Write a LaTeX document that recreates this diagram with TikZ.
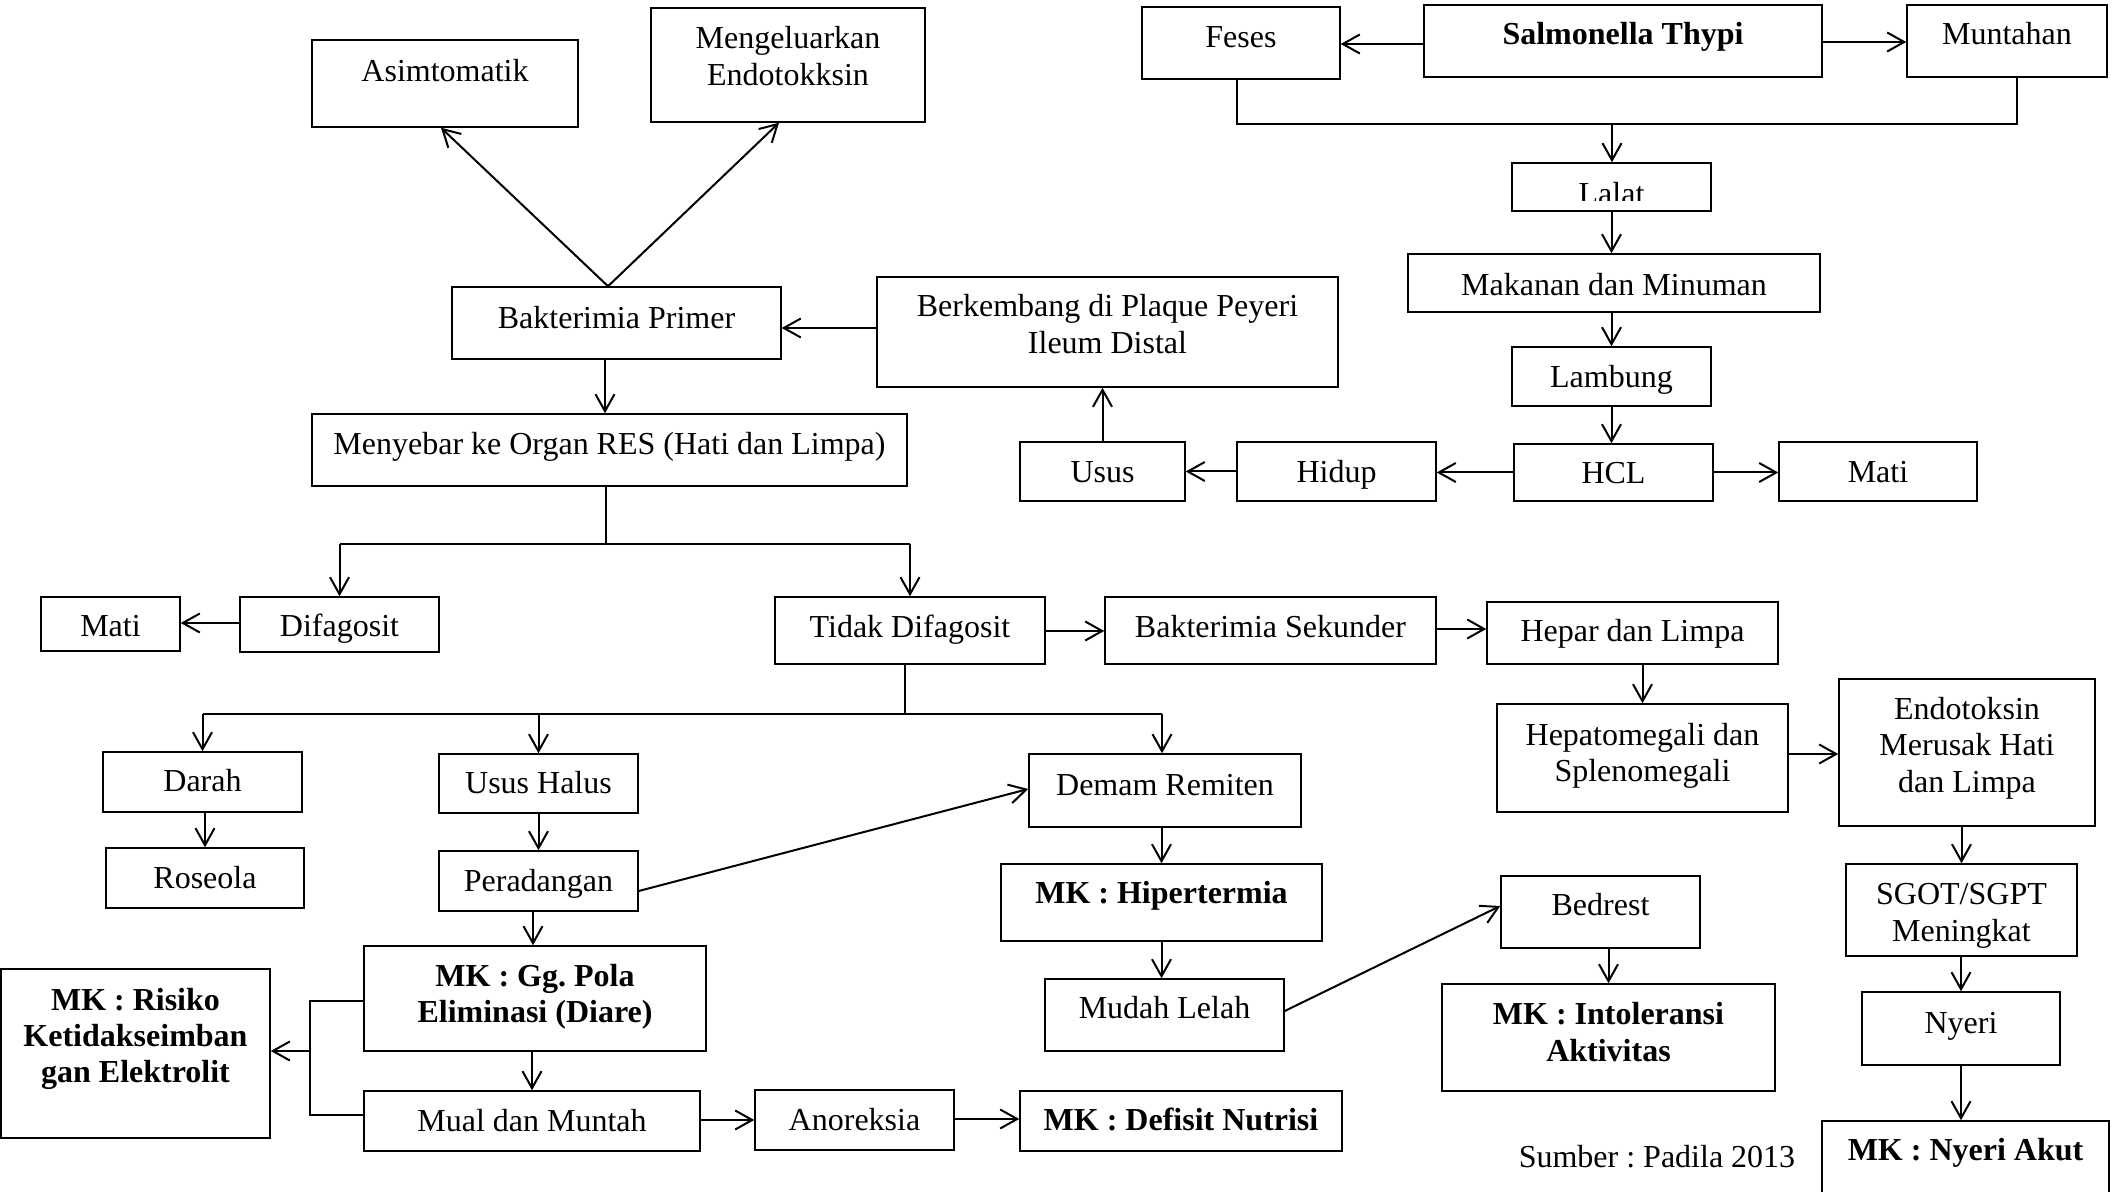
\documentclass[tikz,border=0pt]{standalone}
\usepackage{fontspec}
\setmainfont{Liberation Serif}
\usetikzlibrary{arrows.meta,fit}
\frenchspacing
\newcommand\bx[7]{\node[boxst, fit={(#2,#3)(#4,#5)}] (#1) {};
 \node[txt, one] (#1-t) at ({(#2+#4)/2},#6) {#7};}
\newcommand\bxm[7]{\node[boxst, fit={(#2,#3)(#4,#5)}] (#1) {};
 \node[txt] (#1-t) at ({(#2+#4)/2},#6) {#7};}
\begin{document}
\begin{tikzpicture}[x=0.5pt,y=-0.5pt,
  boxst/.style={draw, line width=0.75pt, inner sep=0pt},
  txt/.style={font=\fontsize{16}{18.2}\selectfont, align=center, inner sep=0pt},
  one/.style={text height=10.9pt, text depth=0pt},
  arr/.style={-{Straight Barb[length=8.5pt,width=9.5pt]}, line width=1pt},
  ln/.style={line width=1pt}]
\useasboundingbox (0,0) rectangle (2117,1192);
\clip (0,0) rectangle (2117,1192);
% boxes
\bx{asim}{312}{40}{578}{127}{71}{Asimtomatik}
\bxm{meng}{651}{8}{925}{122}{56}{Mengeluarkan\\Endotokksin}
\bx{bprim}{452}{287}{781}{359}{318}{Bakterimia Primer}
\bxm{berk}{877}{277}{1338}{387}{324}{Berkembang di Plaque Peyeri\\Ileum Distal}
\bx{meny}{312}{414}{907}{486}{444}{Menyebar ke Organ RES (Hati dan Limpa)}
\bx{feses}{1142}{7}{1340}{79}{37}{Feses}
\bx{salm}{1424}{5}{1822}{77}{34}{\bfseries Salmonella Thypi}
\bx{munt}{1907}{5}{2107}{77}{34}{Muntahan}
\node[boxst, fit={(1512,163)(1711,211)}] (lalat) {};
\begin{scope}
\clip (1512,163) rectangle (1711,201);
\node[txt, anchor=base] (lalat-t) at (1611.5,205) {Lalat};
\end{scope}
\bx{makan}{1408}{254}{1820}{312}{285}{Makanan dan Minuman}
\bx{lamb}{1512}{347}{1711}{406}{377}{Lambung}
\bx{hcl}{1514}{444}{1713}{501}{473}{HCL}
\bx{matir}{1779}{442}{1977}{501}{472}{Mati}
\bx{hidup}{1237}{442}{1436}{501}{472}{Hidup}
\bx{usus}{1020}{442}{1185}{501}{472}{Usus}
\bx{matil}{41}{597}{180}{651}{626}{Mati}
\bx{difa}{240}{597}{439}{652}{626}{Difagosit}
\bx{tidak}{775}{597}{1045}{664}{627}{Tidak Difagosit}
\bx{bsek}{1105}{597}{1436}{664}{627}{Bakterimia Sekunder}
\bx{hepar}{1487}{602}{1778}{664}{631}{Hepar dan Limpa}
\bxm{hepato}{1497}{704}{1788}{812}{756}{Hepatomegali dan\\Splenomegali}
\bxm{endo}{1839}{679}{2095}{826}{748}{Endotoksin\\Merusak Hati\\dan Limpa}
\bxm{sgot}{1846}{864}{2077}{956}{916}{SGOT/SGPT\\Meningkat}
\bx{nyeri}{1862}{992}{2060}{1065}{1023}{Nyeri}
\bx{nakut}{1822}{1121}{2109}{1200}{1150}{\bfseries MK : Nyeri Akut}
\bx{darah}{103}{752}{302}{812}{781}{Darah}
\bx{roseola}{106}{848}{304}{908}{878}{Roseola}
\bx{uhalus}{439}{754}{638}{813}{783}{Usus Halus}
\bx{perad}{439}{851}{638}{911}{881}{Peradangan}
\bx{demam}{1029}{754}{1301}{827}{785}{Demam Remiten}
\bx{hiper}{1001}{864}{1322}{941}{893}{\bfseries MK : Hipertermia}
\bx{mudah}{1045}{979}{1284}{1051}{1008}{Mudah Lelah}
\bx{bedrest}{1501}{876}{1700}{948}{905}{Bedrest}
\bxm{intol}{1442}{984}{1775}{1091}{1032}{\bfseries MK : Intoleransi\\\bfseries Aktivitas}
\bxm{mkgg}{364}{946}{706}{1051}{997}{\bfseries MK : Gg. Pola\\\bfseries Eliminasi (Diare)}
\bxm{risiko}{1}{969}{270}{1138}{1039}{\bfseries MK : Risiko\\\bfseries Ketidakseimban\\\bfseries gan Elektrolit}
\bx{mual}{364}{1091}{700}{1151}{1121}{Mual dan Muntah}
\bx{anor}{755}{1090}{954}{1150}{1120}{Anoreksia}
\bx{defisit}{1020}{1091}{1342}{1151}{1120}{\bfseries MK : Defisit Nutrisi}
\node[txt, one] (sumber) at (1657,1157) {Sumber : Padila 2013};
% connectors top right
\draw[arr] (salm.west |- 0,44) -- (feses.east |- 0,44);
\draw[arr] (salm.east |- 0,42) -- (munt.west |- 0,42);
\coordinate (j1) at (1612,124);
\draw[ln] (feses.south -| 1237,0) -- (1237,124) -- (2017,124) -- (munt.south -| 2017,0);
\draw[arr] (j1) -- (lalat.north -| j1);
\draw[arr] (lalat.south) -- (lalat.south |- makan.north);
\draw[arr] (lamb.north |- makan.south) -- (lamb.north);
\draw[arr] (lamb.south) -- (lamb.south |- hcl.north);
\draw[arr] (hcl.east) -- (matir.west |- hcl.east);
\draw[arr] (hcl.west) -- (hidup.east |- hcl.west);
\draw[arr] (hidup.west) -- (usus.east |- hidup.west);
\draw[arr] (usus.north) -- (usus.north |- berk.south);
\draw[arr] (berk.west |- 0,328) -- (bprim.east |- 0,328);
\draw[arr] (bprim.north -| 608,0) -- (asim.south -| 441,0);
\draw[arr] (bprim.north -| 608,0) -- (meng.south -| 779,0);
\draw[arr] (bprim.south -| 605,0) -- (meny.north -| 605,0);
% split below Menyebar
\coordinate (j2) at (606,544);
\draw[ln] (meny.south -| j2) -- (j2);
\draw[ln] (difa.north |- j2) -- (tidak.north |- j2);
\draw[arr] (difa.north |- j2) -- (difa.north);
\draw[arr] (tidak.north |- j2) -- (tidak.north);
\draw[arr] (difa.west |- 0,623) -- (matil.east |- 0,623);
\draw[arr] (tidak.east |- 0,631) -- (bsek.west |- 0,631);
\draw[arr] (bsek.east |- 0,629) -- (hepar.west |- 0,629);
\draw[arr] (hepato.north |- hepar.south) -- (hepato.north);
\draw[arr] (hepato.east |- 0,754) -- (endo.west |- 0,754);
\draw[arr] (sgot.north |- endo.south) -- (sgot.north);
\draw[arr] (nyeri.north |- sgot.south) -- (nyeri.north);
\draw[arr] (nyeri.south) -- (nyeri.south |- nakut.north);
% split below Tidak Difagosit
\coordinate (j3) at (905,714);
\draw[ln] (tidak.south -| j3) -- (j3);
\draw[ln] (darah.north |- j3) -- (1162,714);
\draw[arr] (darah.north |- j3) -- (darah.north);
\draw[arr] (uhalus.north |- j3) -- (uhalus.north);
\draw[arr] (1162,714) -- (demam.north -| 1162,0);
\draw[arr] (roseola.north |- darah.south) -- (roseola.north);
\draw[arr] (uhalus.south) -- (perad.north);
\draw[arr] (perad.east |- 0,891) -- (demam.west |- 0,789);
\draw[arr] (perad.south -| 533,0) -- (mkgg.north -| 533,0);
\draw[arr] (mual.north |- mkgg.south) -- (mual.north);
\coordinate (j4) at (310,1051);
\draw[ln] (mkgg.west |- 0,1001) -- (310,1001) -- (310,1115) -- (mual.west |- 0,1115);
\draw[arr] (j4) -- (risiko.east |- j4);
\draw[arr] (mual.east |- 0,1120) -- (anor.west |- 0,1120);
\draw[arr] (anor.east |- 0,1119) -- (defisit.west |- 0,1119);
\draw[arr] (hiper.north |- demam.south) -- (hiper.north);
\draw[arr] (hiper.south) -- (hiper.south |- mudah.north);
\draw[arr] (mudah.east |- 0,1011) -- (bedrest.west |- 0,906);
\draw[arr] (intol.north |- bedrest.south) -- (intol.north);
\end{tikzpicture}
\end{document}
